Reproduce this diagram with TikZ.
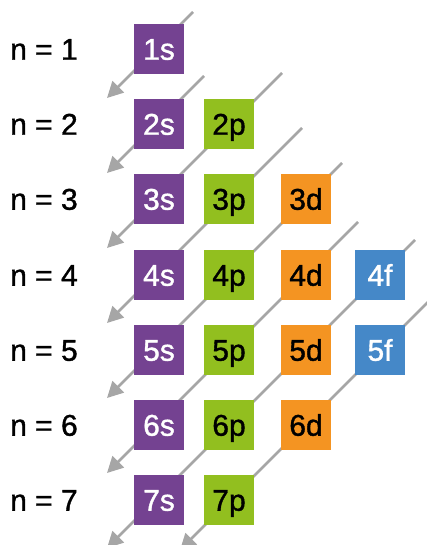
\documentclass[tikz,border=0pt]{standalone}
\usepackage{fontspec}
\setmainfont[FakeBold=1.2]{Liberation Sans}
\usetikzlibrary{arrows.meta}
\definecolor{orbS}{RGB}{116,66,145}
\definecolor{orbP}{RGB}{146,191,31}
\definecolor{orbD}{RGB}{244,148,34}
\definecolor{orbF}{RGB}{69,136,200}
\definecolor{lineGray}{RGB}{166,166,166}
\begin{document}
\begin{tikzpicture}[x=1pt,y=-1pt,
  orb/.style={minimum size=50pt, inner sep=0pt, text height=21.5pt, text depth=0pt,
    font=\fontsize{30}{30}\selectfont},
  sorb/.style={orb, fill=orbS, text=white},
  porb/.style={orb, fill=orbP, text=black},
  dorb/.style={orb, fill=orbD, text=black},
  forb/.style={orb, fill=orbF, text=white},
  nlabel/.style={anchor=west, inner sep=0pt, text height=21.5pt, text depth=0pt,
    font=\fontsize{30}{30}\selectfont},
  diag/.style={draw=lineGray, line width=2.5pt, -{Triangle[length=16pt,width=16pt]}}]
\clip (0,0) rectangle (427,545);
% diagonal start points and arrow tips
\coordinate (s1) at (193,12);  \coordinate (t1) at (107,98);
\coordinate (s2) at (204,76);  \coordinate (t2) at (107,173);
\coordinate (s3) at (282,73);  \coordinate (t3) at (107,248);
\coordinate (s4) at (302,128); \coordinate (t4) at (107,323);
\coordinate (s5) at (342,163); \coordinate (t5) at (107,398);
\coordinate (s6) at (358,222); \coordinate (t6) at (107,473);
\coordinate (s7) at (415,240); \coordinate (t7) at (107,548);
\coordinate (s8) at (450,280); \coordinate (t8) at (180,550);
\foreach \k in {1,...,8} { \draw[diag] (s\k) -- (t\k); }
% labels
\foreach \n/\y in {1/49,2/124,3/199,4/275,5/350,6/425,7/500} {
  \node[nlabel] (n\n) at (10,\y) {n = \n};
}
% orbitals
\foreach \n/\y in {1/49,2/124,3/199,4/275,5/350,6/425,7/500} {
  \node[sorb] (o\n s) at (159,\y) {\n s};
}
\foreach \n/\y in {2/124,3/199,4/275,5/350,6/425,7/500} {
  \node[porb] (o\n p) at (229,\y) {\n p};
}
\foreach \n/\y in {3/199,4/275,5/350,6/425} {
  \node[dorb] (o\n d) at (306,\y) {\n d};
}
\foreach \n/\y in {4/275,5/350} {
  \node[forb] (o\n f) at (380,\y) {\n f};
}
\end{tikzpicture}
\end{document}
